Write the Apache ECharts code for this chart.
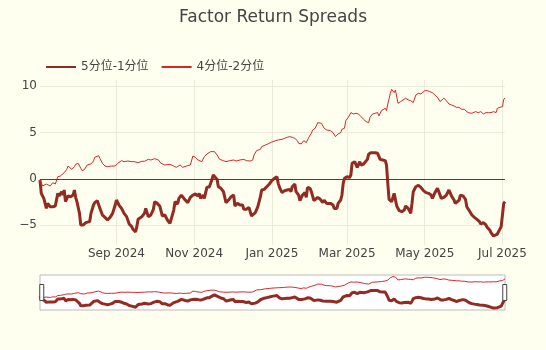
<!DOCTYPE html>
<html><head><meta charset="utf-8">
<script src="https://cdn.jsdelivr.net/npm/echarts@6/dist/echarts.min.js"></script>
<style>html,body{margin:0;padding:0;background:#fffff0}#c{width:546px;height:350px}</style>
</head><body><div id="c"></div>
<script>
const titleText = 'Factor Return Spreads';
const seriesNames = ['5分位-1分位', '4分位-2分位'];
const xStart = '2024-07-03';
const xEnd = '2025-07-03';
const yTicks = [-5, 0, 5, 10];

const dates51 = ['2024-07-03','2024-07-04','2024-07-06','2024-07-08','2024-07-09','2024-07-11','2024-07-13','2024-07-15','2024-07-17','2024-07-18','2024-07-20','2024-07-21','2024-07-22','2024-07-23','2024-07-25','2024-07-27','2024-07-29','2024-07-30','2024-07-31','2024-08-01','2024-08-03','2024-08-04','2024-08-06','2024-08-08','2024-08-11','2024-08-12','2024-08-14','2024-08-15','2024-08-17','2024-08-19','2024-08-21','2024-08-23','2024-08-25','2024-08-27','2024-08-29','2024-08-31','2024-09-01','2024-09-03','2024-09-05','2024-09-07','2024-09-09','2024-09-11','2024-09-13','2024-09-14','2024-09-16','2024-09-17','2024-09-18','2024-09-21','2024-09-23','2024-09-24','2024-09-26','2024-09-28','2024-09-30','2024-10-01','2024-10-03','2024-10-05','2024-10-07','2024-10-09','2024-10-11','2024-10-13','2024-10-14','2024-10-16','2024-10-17','2024-10-19','2024-10-20','2024-10-22','2024-10-23','2024-10-25','2024-10-27','2024-10-29','2024-10-31','2024-11-02','2024-11-04','2024-11-05','2024-11-06','2024-11-08','2024-11-09','2024-11-11','2024-11-12','2024-11-13','2024-11-15','2024-11-16','2024-11-17','2024-11-19','2024-11-20','2024-11-22','2024-11-24','2024-11-26','2024-11-28','2024-11-30','2024-12-02','2024-12-03','2024-12-05','2024-12-07','2024-12-09','2024-12-10','2024-12-12','2024-12-14','2024-12-16','2024-12-17','2024-12-19','2024-12-21','2024-12-23','2024-12-24','2024-12-26','2024-12-28','2024-12-30','2025-01-01','2025-01-03','2025-01-04','2025-01-05','2025-01-06','2025-01-07','2025-01-09','2025-01-11','2025-01-13','2025-01-15','2025-01-16','2025-01-17','2025-01-19','2025-01-20','2025-01-22','2025-01-23','2025-01-25','2025-01-27','2025-01-28','2025-01-29','2025-01-31','2025-02-01','2025-02-03','2025-02-04','2025-02-06','2025-02-08','2025-02-10','2025-02-11','2025-02-13','2025-02-14','2025-02-16','2025-02-18','2025-02-19','2025-02-21','2025-02-22','2025-02-24','2025-02-25','2025-02-26','2025-02-27','2025-03-01','2025-03-03','2025-03-04','2025-03-05','2025-03-07','2025-03-08','2025-03-09','2025-03-11','2025-03-12','2025-03-14','2025-03-15','2025-03-17','2025-03-18','2025-03-20','2025-03-23','2025-03-25','2025-03-27','2025-03-29','2025-03-31','2025-04-01','2025-04-02','2025-04-03','2025-04-04','2025-04-05','2025-04-06','2025-04-07','2025-04-08','2025-04-09','2025-04-11','2025-04-13','2025-04-15','2025-04-16','2025-04-18','2025-04-20','2025-04-21','2025-04-22','2025-04-24','2025-04-26','2025-04-28','2025-04-30','2025-05-02','2025-05-04','2025-05-06','2025-05-07','2025-05-09','2025-05-11','2025-05-12','2025-05-14','2025-05-16','2025-05-18','2025-05-19','2025-05-20','2025-05-22','2025-05-24','2025-05-25','2025-05-26','2025-05-28','2025-05-29','2025-05-31','2025-06-02','2025-06-03','2025-06-05','2025-06-07','2025-06-09','2025-06-11','2025-06-13','2025-06-14','2025-06-16','2025-06-18','2025-06-19','2025-06-21','2025-06-22','2025-06-24','2025-06-25','2025-06-27','2025-06-28','2025-06-30','2025-07-01','2025-07-02','2025-07-03'];
const values51 = [-0.11,-1.55,-2.09,-3.17,-2.63,-2.99,-2.99,-2.91,-1.55,-1.83,-1.37,-1.73,-1.19,-2.45,-1.83,-1.91,-1.73,-1.19,-1.98,-2.45,-3.71,-4.96,-4.96,-4.71,-4.60,-3.71,-2.81,-2.55,-2.34,-3.17,-3.88,-4.14,-4.42,-4.14,-3.71,-2.81,-2.27,-2.81,-3.17,-3.71,-4.06,-4.86,-5.14,-5.43,-5.72,-5.14,-4.35,-4.06,-3.71,-3.17,-4.06,-3.88,-3.27,-2.45,-2.63,-2.91,-3.99,-3.88,-4.42,-4.78,-4.78,-3.35,-2.45,-2.70,-2.09,-1.73,-1.91,-2.27,-2.55,-1.98,-1.73,-1.62,-1.83,-1.55,-2.09,-1.73,-2.09,-0.90,-0.76,-0.83,-0.04,0.43,0.61,-0.04,-0.83,-1.01,-1.37,-2.55,-2.27,-1.91,-1.73,-2.91,-2.63,-2.81,-2.81,-3.27,-3.27,-3.06,-3.99,-3.78,-3.63,-2.99,-1.91,-1.19,-1.12,-0.83,-0.54,-0.18,0.07,0.18,0.25,-0.47,-0.90,-1.47,-1.26,-1.19,-1.12,-1.37,-0.83,-0.54,-1.37,-1.73,-2.34,-1.73,-1.47,-1.98,-0.90,-1.01,-1.37,-2.34,-2.45,-1.98,-2.19,-2.55,-2.27,-2.63,-2.45,-2.63,-2.81,-3.17,-3.17,-2.63,-2.27,-1.73,-0.47,0.07,0.25,0.14,0.43,1.69,1.87,1.76,1.26,1.87,1.51,1.62,1.69,2.12,2.70,2.84,2.84,2.77,2.12,2.05,1.98,1.51,-0.47,-2.19,-2.27,-2.45,-2.63,-1.55,-1.37,-2.91,-3.42,-3.53,-3.35,-2.91,-3.17,-3.71,-2.63,-1.37,-0.83,-0.68,-0.90,-1.26,-1.47,-1.55,-1.73,-2.09,-1.47,-1.01,-0.90,-2.09,-1.98,-1.73,-1.83,-1.19,-1.83,-2.27,-2.63,-2.81,-2.27,-1.73,-1.83,-2.19,-2.99,-3.42,-3.88,-4.14,-4.35,-4.60,-4.86,-4.71,-4.96,-5.22,-5.50,-5.79,-6.15,-5.94,-5.94,-5.86,-5.14,-3.88,-2.63,-2.45];

const dates42 = ['2024-07-03','2024-07-05','2024-07-08','2024-07-11','2024-07-13','2024-07-15','2024-07-17','2024-07-19','2024-07-22','2024-07-24','2024-07-25','2024-07-28','2024-07-30','2024-07-31','2024-08-02','2024-08-04','2024-08-05','2024-08-07','2024-08-09','2024-08-12','2024-08-14','2024-08-15','2024-08-18','2024-08-19','2024-08-21','2024-08-23','2024-08-25','2024-08-28','2024-08-31','2024-09-02','2024-09-05','2024-09-07','2024-09-10','2024-09-13','2024-09-15','2024-09-18','2024-09-21','2024-09-23','2024-09-26','2024-09-28','2024-10-01','2024-10-04','2024-10-06','2024-10-09','2024-10-10','2024-10-13','2024-10-16','2024-10-18','2024-10-21','2024-10-23','2024-10-26','2024-10-29','2024-10-31','2024-11-02','2024-11-04','2024-11-07','2024-11-09','2024-11-11','2024-11-14','2024-11-17','2024-11-19','2024-11-21','2024-11-24','2024-11-26','2024-11-29','2024-12-02','2024-12-04','2024-12-07','2024-12-10','2024-12-12','2024-12-15','2024-12-17','2024-12-18','2024-12-20','2024-12-23','2024-12-24','2024-12-27','2024-12-30','2025-01-01','2025-01-04','2025-01-06','2025-01-09','2025-01-11','2025-01-13','2025-01-15','2025-01-17','2025-01-19','2025-01-21','2025-01-22','2025-01-24','2025-01-26','2025-01-27','2025-01-28','2025-01-30','2025-02-01','2025-02-02','2025-02-04','2025-02-06','2025-02-07','2025-02-09','2025-02-11','2025-02-13','2025-02-16','2025-02-18','2025-02-19','2025-02-20','2025-02-22','2025-02-24','2025-02-25','2025-02-27','2025-02-28','2025-03-02','2025-03-04','2025-03-06','2025-03-08','2025-03-10','2025-03-12','2025-03-14','2025-03-16','2025-03-18','2025-03-19','2025-03-21','2025-03-23','2025-03-25','2025-03-26','2025-03-28','2025-03-29','2025-03-31','2025-04-01','2025-04-02','2025-04-04','2025-04-05','2025-04-06','2025-04-07','2025-04-08','2025-04-10','2025-04-12','2025-04-14','2025-04-16','2025-04-18','2025-04-20','2025-04-22','2025-04-24','2025-04-26','2025-04-28','2025-04-29','2025-05-01','2025-05-03','2025-05-05','2025-05-07','2025-05-09','2025-05-11','2025-05-13','2025-05-14','2025-05-16','2025-05-18','2025-05-20','2025-05-22','2025-05-24','2025-05-26','2025-05-28','2025-05-30','2025-06-01','2025-06-02','2025-06-04','2025-06-07','2025-06-08','2025-06-10','2025-06-12','2025-06-14','2025-06-16','2025-06-18','2025-06-20','2025-06-22','2025-06-24','2025-06-26','2025-06-27','2025-06-29','2025-07-01','2025-07-02','2025-07-03'];
const values42 = [0.00,-0.76,-0.54,-0.76,-0.40,-0.54,0.25,0.32,0.68,1.04,1.40,1.04,1.33,1.58,1.69,1.15,0.90,1.04,1.51,1.62,1.94,2.34,2.52,2.23,1.69,1.40,1.33,1.40,1.40,1.69,1.98,1.87,1.94,1.87,1.87,1.76,1.91,1.91,2.12,2.05,2.19,2.05,1.69,1.51,1.62,1.58,1.40,1.26,1.51,1.26,1.40,1.51,2.48,2.34,2.05,1.87,2.41,2.70,2.95,2.95,2.59,2.12,1.98,1.87,1.98,2.05,1.94,2.05,2.12,1.98,1.94,2.05,2.59,3.06,3.20,3.49,3.67,3.85,3.99,4.14,4.21,4.28,4.39,4.50,4.57,4.50,4.39,4.14,3.85,3.78,4.14,4.28,3.92,4.50,4.93,5.29,5.47,6.08,6.08,6.01,5.47,5.29,5.22,5.00,4.93,4.57,4.86,5.00,5.36,5.47,6.29,6.65,7.16,7.01,7.09,7.01,6.73,6.44,6.19,6.08,6.65,7.01,7.09,7.16,6.80,7.37,7.45,7.63,7.37,8.09,9.24,9.68,9.89,9.32,9.60,8.17,8.35,8.53,8.71,8.53,8.45,8.24,9.06,9.24,9.17,9.06,9.53,9.53,9.42,9.32,9.06,8.81,8.35,8.45,8.71,8.45,8.09,7.99,7.88,7.73,7.73,7.52,7.52,7.37,7.16,7.09,7.16,7.27,7.16,7.27,7.01,7.16,7.16,7.16,7.27,7.16,7.63,7.73,7.81,8.60,8.71];

const yMin = -7.12, yMax = 10.68;
const FONT = 'DejaVu Sans, "Noto Sans CJK SC", sans-serif';
const TXT = '#444';
const GRIDC = '#ebebdc';
const C51 = '#922b21', C42 = '#d62728';
const MONTHS = ['Jan','Feb','Mar','Apr','May','Jun','Jul','Aug','Sep','Oct','Nov','Dec'];

const pairs = (ds, vs) => ds.map((d, i) => [d, vs[i]]);
const data51 = pairs(dates51, values51);
const data42 = pairs(dates42, values42);

const chart = echarts.init(document.getElementById('c'), null, {renderer: 'canvas'});
chart.setOption({
  animation: false,
  backgroundColor: '#fffff0',
  textStyle: {fontFamily: FONT},
  title: {
    text: titleText, left: 'center', top: 9, padding: 0,
    textStyle: {fontFamily: FONT, fontSize: 17, fontWeight: 'normal', color: TXT}
  },
  legend: {
    data: seriesNames, left: 45, top: 61, padding: 0,
    itemWidth: 30, itemHeight: 14, itemGap: 12,
    itemStyle: {opacity: 0},
    textStyle: {fontFamily: FONT, fontSize: 12, color: TXT}
  },
  grid: [
    {left: 40, right: 41, top: 80, height: 165, containLabel: false},
    {left: 40, right: 41, top: 275, height: 35, show: true, backgroundColor: '#ffffff', borderColor: '#bbbbbb', borderWidth: 1}
  ],
  xAxis: [
    {
      type: 'time', gridIndex: 0, min: xStart, max: xEnd,
      axisLine: {show: false}, axisTick: {show: false},
      splitLine: {show: true, showMinLine: false, showMaxLine: false, lineStyle: {color: GRIDC, width: 1}},
      axisLabel: {
        color: TXT, fontSize: 12, fontFamily: FONT, margin: 3,
        showMinLabel: false, showMaxLabel: false,
        formatter: (v) => { const d = new Date(v); return MONTHS[d.getMonth()] + ' ' + d.getFullYear(); }
      }
    },
    {type: 'time', gridIndex: 1, min: xStart, max: xEnd, show: false}
  ],
  yAxis: [
    {
      type: 'value', gridIndex: 0, min: yMin, max: yMax, splitNumber: 4,
      axisLine: {show: false}, axisTick: {show: false},
      splitLine: {show: true, showMinLine: false, showMaxLine: false, lineStyle: {color: GRIDC, width: 1}},
      axisLabel: {
        color: TXT, fontSize: 12, fontFamily: FONT, margin: 3,
        showMinLabel: false, showMaxLabel: false,
        formatter: (v) => yTicks.includes(v) ? (v < 0 ? '\u2212' + Math.abs(v) : String(v)) : ''
      }
    },
    {type: 'value', gridIndex: 1, min: yMin, max: yMax, show: false}
  ],
  dataZoom: [{
    type: 'slider', xAxisIndex: [0], filterMode: 'none', start: 0, end: 100,
    left: 40, right: 41, top: 275, height: 35,
    showDataShadow: false, showDetail: false, brushSelect: false, zoomLock: true,
    backgroundColor: 'rgba(0,0,0,0)', borderColor: 'rgba(0,0,0,0)', fillerColor: 'rgba(0,0,0,0)',
    handleIcon: 'path://M0,0H4V16H0Z', handleSize: 16,
    handleStyle: {color: '#ffffff', borderColor: '#444444', borderWidth: 1},
    moveHandleSize: 0,
    dataBackground: {lineStyle: {opacity: 0}, areaStyle: {opacity: 0}},
    selectedDataBackground: {lineStyle: {opacity: 0}, areaStyle: {opacity: 0}}
  }],
  series: [
    {
      name: seriesNames[0], type: 'line', xAxisIndex: 0, yAxisIndex: 0, data: data51,
      symbol: 'none', showSymbol: false, lineStyle: {width: 3, color: C51}, itemStyle: {color: C51},
      markLine: {silent: true, symbol: 'none', label: {show: false}, lineStyle: {color: '#444', width: 1, type: 'solid'}, data: [{yAxis: 0}]}
    },
    {
      name: seriesNames[1], type: 'line', xAxisIndex: 0, yAxisIndex: 0, data: data42,
      symbol: 'none', showSymbol: false, lineStyle: {width: 1, color: C42}, itemStyle: {color: C42}
    },
    {
      name: seriesNames[0], type: 'line', xAxisIndex: 1, yAxisIndex: 1, data: data51,
      symbol: 'none', showSymbol: false, lineStyle: {width: 3, color: C51}, itemStyle: {color: C51}
    },
    {
      name: seriesNames[1], type: 'line', xAxisIndex: 1, yAxisIndex: 1, data: data42,
      symbol: 'none', showSymbol: false, lineStyle: {width: 1, color: C42}, itemStyle: {color: C42}
    }
  ]
});
</script>
</body></html>
